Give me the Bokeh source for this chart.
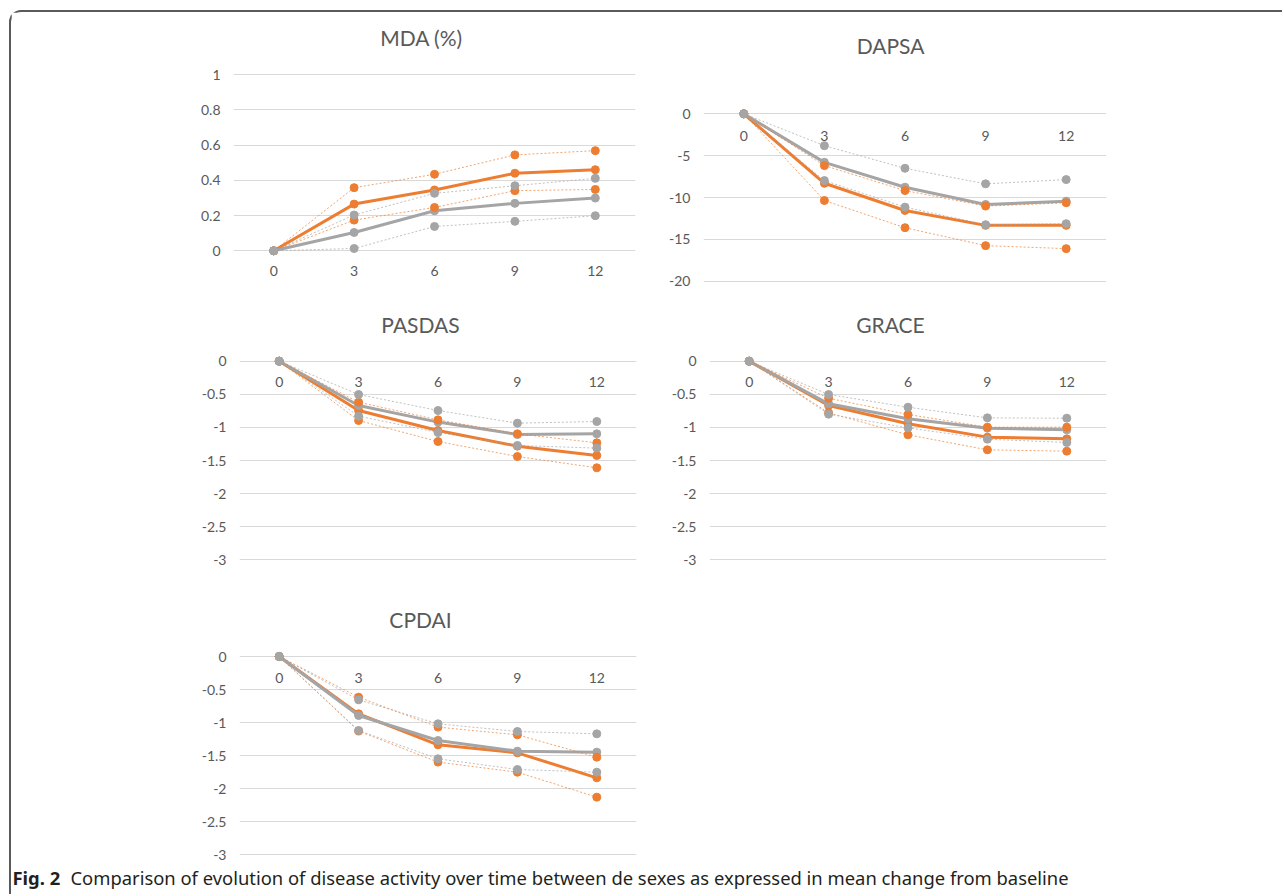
from bokeh.plotting import figure
from bokeh.layouts import row, column
from bokeh.models import FactorRange, Range1d, FixedTicker, CustomJSTickFormatter, Label
from bokeh.embed import file_html
from bokeh.resources import INLINE
from bokeh.core.properties import value

MONTHS = ["0", "3", "6", "9", "12"]

MDA_TICKS = [0, 0.2, 0.4, 0.6, 0.8, 1]
DAPSA_TICKS = [-20, -15, -10, -5, 0]
SCORE_TICKS = [-3, -2.5, -2, -1.5, -1, -0.5, 0]

# MDA (%)
MDA_ORANGE = [0, 0.265, 0.345, 0.44, 0.46]
MDA_ORANGE_HI = [0, 0.358, 0.434, 0.544, 0.568]
MDA_ORANGE_LO = [0, 0.174, 0.246, 0.341, 0.348]
MDA_GRAY = [0, 0.104, 0.227, 0.269, 0.299]
MDA_GRAY_HI = [0, 0.203, 0.326, 0.369, 0.411]
MDA_GRAY_LO = [0, 0.013, 0.138, 0.167, 0.199]

# DAPSA
DAPSA_ORANGE = [0, -8.3, -11.55, -13.33, -13.33]
DAPSA_ORANGE_HI = [0, -6.19, -9.17, -11.03, -10.63]
DAPSA_ORANGE_LO = [0, -10.36, -13.61, -15.75, -16.11]
DAPSA_GRAY = [0, -5.8, -8.77, -10.83, -10.44]
DAPSA_GRAY_HI = [0, -3.81, -6.51, -8.37, -7.86]
DAPSA_GRAY_LO = [0, -7.98, -11.15, -13.25, -13.13]

# PASDAS
PASDAS_ORANGE = [0, -0.745, -1.047, -1.283, -1.424]
PASDAS_ORANGE_HI = [0, -0.619, -0.886, -1.097, -1.233]
PASDAS_ORANGE_LO = [0, -0.896, -1.213, -1.44, -1.61]
PASDAS_GRAY = [0, -0.67, -0.92, -1.107, -1.097]
PASDAS_GRAY_HI = [0, -0.503, -0.745, -0.936, -0.911]
PASDAS_GRAY_LO = [0, -0.83, -1.077, -1.273, -1.313]

# GRACE
GRACE_ORANGE = [0, -0.67, -0.946, -1.147, -1.173]
GRACE_ORANGE_HI = [0, -0.56, -0.805, -0.996, -0.996]
GRACE_ORANGE_LO = [0, -0.78, -1.112, -1.339, -1.359]
GRACE_GRAY = [0, -0.644, -0.87, -1.012, -1.037]
GRACE_GRAY_HI = [0, -0.503, -0.695, -0.856, -0.861]
GRACE_GRAY_LO = [0, -0.80, -1.007, -1.178, -1.228]

# CPDAI
CPDAI_ORANGE = [0, -0.869, -1.338, -1.46, -1.838]
CPDAI_ORANGE_HI = [0, -0.616, -1.07, -1.187, -1.525]
CPDAI_ORANGE_LO = [0, -1.13, -1.6, -1.753, -2.131]
CPDAI_GRAY = [0, -0.894, -1.273, -1.434, -1.449]
CPDAI_GRAY_HI = [0, -0.657, -1.02, -1.136, -1.172]
CPDAI_GRAY_LO = [0, -1.121, -1.55, -1.712, -1.753]

CAPTION_BOLD = "Fig. 2"
CAPTION_TEXT = ("Comparison of evolution of disease activity over time between de sexes "
                "as expressed in mean change from baseline")

ORANGE = "#ED7D31"
GRAY = "#A5A5A5"
TEXT = "#595959"
GRID = "#D9D9D9"
FONT = "Lato"


def make_panel(title, series, ticks, y_lo, y_hi, w, h, left, right, top, bottom,
               title_dx, title_dy, label_dy):
    p = figure(width=w, height=h, title=None,
               x_range=FactorRange(factors=MONTHS, range_padding=0),
               y_range=Range1d(y_lo, y_hi),
               output_backend="svg", toolbar_location=None,
               min_border_left=left, min_border_right=right,
               min_border_top=top, min_border_bottom=bottom,
               x_axis_location=None,
               background_fill_color="white", border_fill_color="white")
    p.outline_line_color = None
    p.xgrid.visible = False
    p.ygrid.ticker = FixedTicker(ticks=ticks)
    p.ygrid.grid_line_color = GRID
    p.ygrid.grid_line_width = 1

    ya = p.yaxis[0]
    ya.ticker = FixedTicker(ticks=ticks)
    ya.formatter = CustomJSTickFormatter(code="return String(Math.round(tick*10)/10);")
    ya.axis_line_color = None
    ya.major_tick_line_color = None
    ya.minor_tick_line_color = None
    ya.major_tick_out = 0
    ya.major_label_standoff = 13
    ya.major_label_text_font = FONT
    ya.major_label_text_font_size = "14px"
    ya.major_label_text_color = TEXT

    # category labels sit just under the zero line
    p.text(x=MONTHS, y=[0] * len(MONTHS), text=MONTHS, text_align="center",
           text_baseline="middle", y_offset=label_dy, text_font=value(FONT),
           text_font_size="14px", text_color=TEXT)

    mo, mg, olo, ohi, glo, ghi = series
    for vals, col in ((mo, ORANGE), (mg, GRAY)):
        p.line(MONTHS, vals, line_color=col, line_width=3, line_join="round")
        p.scatter(MONTHS, vals, size=8, fill_color=col, line_color=col)
    for vals, col in ((olo, ORANGE), (ohi, ORANGE), (glo, GRAY), (ghi, GRAY)):
        p.line(MONTHS, vals, line_color=col, line_width=1, line_dash="2 2", line_alpha=0.7)
        p.scatter(MONTHS, vals, size=8, fill_color=col, line_color=col)

    # chart title, above the top gridline, centred over the chart area
    p.text(x=[MONTHS[2]], y=[ticks[-1]], text=[title], text_align="center",
           text_baseline="middle", x_offset=title_dx, y_offset=title_dy,
           text_font=value(FONT), text_font_size="21px", text_color=TEXT)
    return p


p1 = make_panel("MDA (%)",
                (MDA_ORANGE, MDA_GRAY, MDA_ORANGE_LO, MDA_ORANGE_HI, MDA_GRAY_LO, MDA_GRAY_HI),
                MDA_TICKS, -0.2252, 1.3063, 648, 288, 222, 24, 8, 10, -13, -37.5, 20)
p2 = make_panel("DAPSA",
                (DAPSA_ORANGE, DAPSA_GRAY, DAPSA_ORANGE_LO, DAPSA_ORANGE_HI, DAPSA_GRAY_LO, DAPSA_GRAY_HI),
                DAPSA_TICKS, -21.111, 11.147, 623, 288, 44, 176, 8, 10, -14.5, -68.3, 22)
p3 = make_panel("PASDAS",
                (PASDAS_ORANGE, PASDAS_GRAY, PASDAS_ORANGE_LO, PASDAS_ORANGE_HI, PASDAS_GRAY_LO, PASDAS_GRAY_HI),
                SCORE_TICKS, -3.1012, 0.7659, 648, 292, 228, 23, 10, 26, -17.5, -36.7, 21)
p4 = make_panel("GRACE",
                (GRACE_ORANGE, GRACE_GRAY, GRACE_ORANGE_LO, GRACE_ORANGE_HI, GRACE_GRAY_LO, GRACE_GRAY_HI),
                SCORE_TICKS, -3.1012, 0.7659, 623, 292, 50, 176, 10, 26, -17.5, -36.7, 21)
p5 = make_panel("CPDAI",
                (CPDAI_ORANGE, CPDAI_GRAY, CPDAI_ORANGE_LO, CPDAI_ORANGE_HI, CPDAI_GRAY_LO, CPDAI_GRAY_HI),
                SCORE_TICKS, -3.1212, 0.7879, 648, 271, 228, 23, 12, 1, -17.5, -37.5, 21)

cap = figure(width=1271, height=31, x_range=Range1d(0, 1271), y_range=Range1d(31, 0),
             output_backend="svg", toolbar_location=None, title=None,
             min_border=0, x_axis_location=None, y_axis_location=None)
cap.outline_line_color = None
cap.grid.visible = False
cap.add_layout(Label(x=1, y=14, text=CAPTION_BOLD, text_align="left", text_baseline="middle",
                     text_font="Noto Sans", text_font_style="bold", text_font_size="18.4px",
                     text_color="#231f20"))
cap.add_layout(Label(x=59, y=14, text=CAPTION_TEXT, text_align="left", text_baseline="middle",
                     text_font="Noto Sans", text_font_size="18.4px", text_color="#231f20"))

root = column(row(p1, p2), row(p3, p4), row(p5), cap,
              margin=(10, 0, 0, 9),
              styles={"border-top": "2px solid #5a5a5a", "border-left": "2px solid #5a5a5a",
                      "border-top-left-radius": "12px"})

open("out.html", "w").write(file_html(root, INLINE))
